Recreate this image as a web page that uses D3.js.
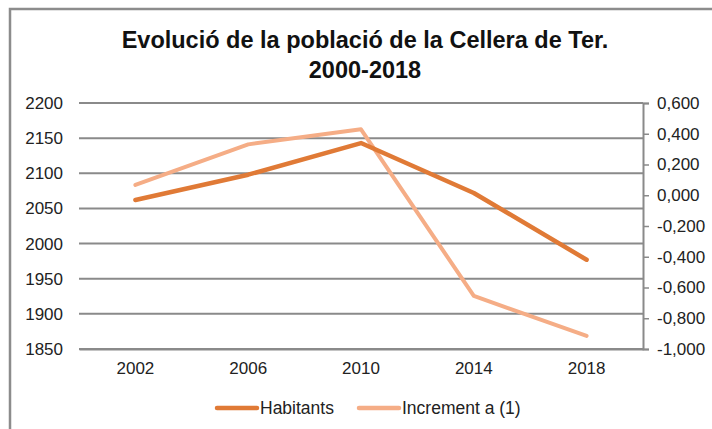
<!DOCTYPE html>
<html>
<head>
<meta charset="utf-8">
<script src="https://cdn.jsdelivr.net/npm/d3@7"></script>
<style>
  body { margin: 0; background: #fff; }
  text { font-family: "Liberation Sans", Arial, sans-serif; }
</style>
</head>
<body>
<div id="chart"></div>
<script>
// Data
const years = ["2002", "2006", "2010", "2014", "2018"];
const habitants = [2062, 2098, 2143, 2072, 1977];
const increment = [0.067, 0.331, 0.429, -0.655, -0.915];
const leftTicks = [1850, 1900, 1950, 2000, 2050, 2100, 2150, 2200];
const rightTicks = [-1, -0.8, -0.6, -0.4, -0.2, 0, 0.2, 0.4, 0.6];

const W = 712, H = 429;
const plot = { left: 79, right: 643, top: 103, bottom: 349 };

const svg = d3.select("#chart").append("svg")
  .attr("width", W)
  .attr("height", H);

// outer chart frame
svg.append("rect")
  .attr("x", 10).attr("y", 9)
  .attr("width", W + 20).attr("height", H + 20)
  .attr("fill", "#fff")
  .attr("stroke", "#8c8c8c")
  .attr("stroke-width", 2.5);

// title
svg.append("text")
  .attr("x", 365).attr("y", 48)
  .attr("text-anchor", "middle")
  .attr("font-size", 23.5).attr("font-weight", "bold")
  .attr("fill", "#111")
  .text("Evolució de la població de la Cellera de Ter.");
svg.append("text")
  .attr("x", 365).attr("y", 78)
  .attr("text-anchor", "middle")
  .attr("font-size", 23.5).attr("font-weight", "bold")
  .attr("fill", "#111")
  .text("2000-2018");

// scales
const x = d3.scaleBand().domain(years).range([plot.left, plot.right]);
const yL = d3.scaleLinear().domain([1850, 2200]).range([plot.bottom, plot.top]);
const yR = d3.scaleLinear().domain([-1, 0.6]).range([plot.bottom, plot.top]);

// gridlines
svg.append("g")
  .selectAll("line")
  .data(leftTicks)
  .join("line")
  .attr("x1", plot.left).attr("x2", plot.right)
  .attr("y1", d => yL(d)).attr("y2", d => yL(d))
  .attr("stroke", "#8a8a8a")
  .attr("stroke-width", 2);

// left axis (labels only)
const leftAxis = svg.append("g")
  .attr("transform", `translate(${plot.left},0)`)
  .call(d3.axisLeft(yL).tickValues(leftTicks).tickSize(0).tickPadding(16).tickFormat(d3.format("d")));
leftAxis.select(".domain").remove();
leftAxis.selectAll("text")
  .attr("font-size", 17).attr("fill", "#222")
  .attr("font-family", "Liberation Sans, Arial, sans-serif");

// right axis
const fmt = v => d3.format(".3f")(v).replace(".", ",").replace("−", "-");
const rightAxis = svg.append("g")
  .attr("transform", `translate(${plot.right},0)`)
  .call(d3.axisRight(yR).tickValues(rightTicks).tickSize(6).tickSizeOuter(6).tickPadding(8).tickFormat(fmt));
rightAxis.select(".domain").attr("stroke", "#8a8a8a").attr("stroke-width", 2);
rightAxis.selectAll(".tick line").attr("stroke", "#8a8a8a").attr("stroke-width", 1.5);
rightAxis.selectAll("text")
  .attr("font-size", 17).attr("fill", "#222")
  .attr("font-family", "Liberation Sans, Arial, sans-serif");

// bottom axis
const bottomAxis = svg.append("g")
  .attr("transform", `translate(0,${plot.bottom})`)
  .call(d3.axisBottom(x).tickSize(0).tickPadding(13));
bottomAxis.select(".domain").attr("stroke", "#8a8a8a").attr("stroke-width", 2);
bottomAxis.selectAll("text")
  .attr("font-size", 17).attr("fill", "#222")
  .attr("font-family", "Liberation Sans, Arial, sans-serif");

// lines
const cx = d => x(d) + x.bandwidth() / 2;
const colHab = "#e07a36", colInc = "#f5ad86";

svg.append("path")
  .datum(years.map((d, i) => [cx(d), yR(increment[i])]))
  .attr("fill", "none")
  .attr("stroke", colInc)
  .attr("stroke-width", 4)
  .attr("stroke-linejoin", "round")
  .attr("stroke-linecap", "round")
  .attr("d", d3.line());

svg.append("path")
  .datum(years.map((d, i) => [cx(d), yL(habitants[i])]))
  .attr("fill", "none")
  .attr("stroke", colHab)
  .attr("stroke-width", 4.5)
  .attr("stroke-linejoin", "round")
  .attr("stroke-linecap", "round")
  .attr("d", d3.line());

// legend
const legendItems = [
  { name: "Habitants", color: colHab, x: 217 },
  { name: "Increment a (1)", color: colInc, x: 359 }
];
const lg = svg.append("g").selectAll("g")
  .data(legendItems)
  .join("g")
  .attr("transform", d => `translate(${d.x},408)`);
lg.append("line")
  .attr("x1", 0).attr("x2", 40)
  .attr("stroke", d => d.color)
  .attr("stroke-width", 4.5)
  .attr("stroke-linecap", "round");
lg.append("text")
  .attr("x", 43).attr("y", 6)
  .attr("font-size", 17.5).attr("fill", "#222")
  .text(d => d.name);
</script>
</body>
</html>
